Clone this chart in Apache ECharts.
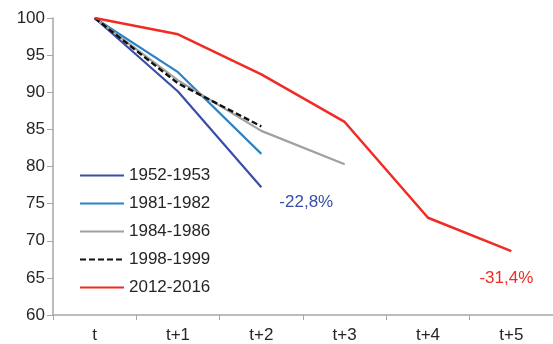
<!DOCTYPE html>
<html>
<head>
<meta charset="utf-8">
<script src="https://cdn.jsdelivr.net/npm/echarts@6/dist/echarts.min.js"></script>
<style>
  html, body { margin: 0; padding: 0; background: #fff; }
  #chart { width: 553px; height: 344px; }
</style>
</head>
<body>
<div id="chart"></div>
<script>
// Periods after the peak: t, t+1, ...
const periods = ['t', 't+1', 't+2', 't+3', 't+4', 't+5'];

// Index levels (peak = 100) for each episode
const s1952 = [100, 90.1, 77.2, null, null, null];
const s1981 = [100, 92.7, 81.7, null, null, null];
const s1984 = [100, 91.6, 84.8, 80.3, null, null];
const s1998 = [100, 91.2, 85.4, null, null, null];
const s2012 = [100, 97.8, 92.4, 86.0, 73.1, 68.6];

const yTicks = { min: 60, max: 100, step: 5 };

const FONT = '"Liberation Sans", Arial, sans-serif';
const FS = 17;
const TEXT = '#262626';
const AXIS = '#a6a6a6';

// Percentage change label at the final point of a series
function endLabelData(values, labelOpt) {
  let last = -1;
  values.forEach((v, i) => { if (v != null) last = i; });
  return values.map((v, i) => {
    if (i !== last || !labelOpt) return v;
    return { value: v, label: Object.assign({ show: true }, labelOpt) };
  });
}

function pctText(p) {
  const change = p.value - 100;
  return (change < 0 ? '-' : '') + Math.abs(change).toFixed(1).replace('.', ',') + '%';
}

function lineSeries(name, values, color, width, dashed, labelOpt) {
  return {
    name: name,
    type: 'line',
    data: endLabelData(values, labelOpt),
    symbol: 'circle',
    symbolSize: 0,
    showSymbol: true,
    connectNulls: false,
    animation: false,
    itemStyle: { color: color },
    lineStyle: { color: color, width: width, type: dashed ? [6, 3] : 'solid' },
    emphasis: { disabled: true },
    z: 2
  };
}

const chart = echarts.init(document.getElementById('chart'), null, { renderer: 'canvas' });

chart.setOption({
  animation: false,
  grid: { left: 53, right: -6, top: 18, bottom: 27, containLabel: false },
  legend: {
    orient: 'vertical',
    left: 79,
    top: 167,
    padding: 0,
    itemWidth: 44,
    itemHeight: 14,
    itemGap: 11,
    itemStyle: { opacity: 0 },
    data: ['1952-1953', '1981-1982', '1984-1986', '1998-1999', '2012-2016'],
    textStyle: { fontFamily: FONT, fontSize: FS, color: TEXT, lineHeight: 14 },
    selectedMode: false
  },
  xAxis: {
    type: 'category',
    data: periods,
    boundaryGap: true,
    axisLine: { lineStyle: { color: AXIS, width: 1.5 } },
    axisTick: { show: true, length: 5, lineStyle: { color: AXIS } },
    axisLabel: { fontFamily: FONT, fontSize: FS, color: TEXT, margin: 12 },
    splitLine: { show: false }
  },
  yAxis: {
    type: 'value',
    min: yTicks.min,
    max: yTicks.max,
    interval: yTicks.step,
    axisLine: { show: true, lineStyle: { color: AXIS, width: 1.5 } },
    axisTick: { show: true, length: 6, lineStyle: { color: AXIS } },
    axisLabel: { fontFamily: FONT, fontSize: FS, color: TEXT, margin: 8 },
    splitLine: { show: false }
  },
  series: [
    lineSeries('1952-1953', s1952, '#3a4ea6', 2.2, false, {
      position: 'right', distance: 18, offset: [0, 15],
      formatter: pctText, fontFamily: FONT, fontSize: FS, color: '#3a4ea6'
    }),
    lineSeries('1981-1982', s1981, '#2a83c6', 2.2, false, null),
    lineSeries('1984-1986', s1984, '#a0a0a0', 2.2, false, null),
    lineSeries('1998-1999', s1998, '#111111', 2.4, true, null),
    lineSeries('2012-2016', s2012, '#f02b24', 2.5, false, {
      position: 'bottom', distance: 19, offset: [-5, 0],
      formatter: pctText, fontFamily: FONT, fontSize: FS, color: '#f02b24'
    })
  ]
});
</script>
</body>
</html>
